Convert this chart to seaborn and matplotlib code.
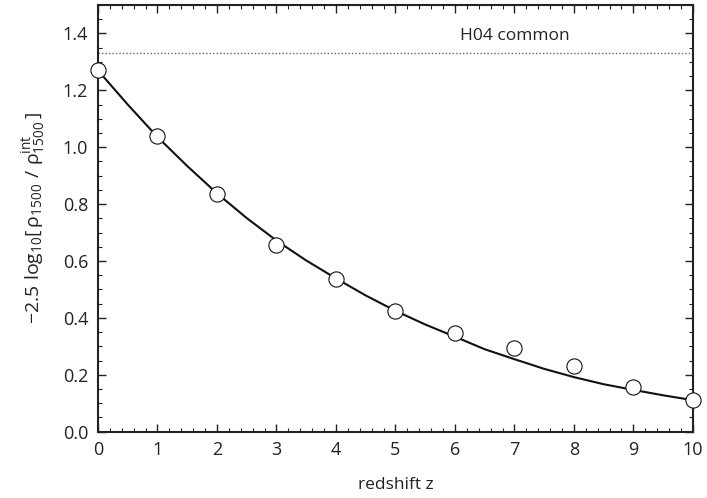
import matplotlib
matplotlib.use("Agg")
import matplotlib.pyplot as plt
import seaborn as sns
import pandas as pd
from matplotlib.ticker import MultipleLocator

# data
z_points = [0, 1, 2, 3, 4, 5, 6, 7, 8, 9, 10]
mag_points = [1.272, 1.038, 0.834, 0.655, 0.537, 0.425, 0.348, 0.294, 0.230, 0.158, 0.112]

z_curve = [0, 0.5, 1, 1.5, 2, 2.5, 3, 3.5, 4, 4.5, 5, 5.5, 6, 6.5, 7, 7.5, 8, 8.5, 9, 9.5, 10]
mag_curve = [1.27, 1.150, 1.036, 0.934, 0.838, 0.751, 0.672, 0.602, 0.539, 0.479, 0.425,
             0.377, 0.334, 0.290, 0.255, 0.221, 0.192, 0.167, 0.147, 0.128, 0.111]

h04_level = 1.33
h04_label = "H04 common"

sns.set_theme(style="ticks")
plt.rcParams['font.family'] = ['Open Sans', 'DejaVu Sans']
plt.rcParams['mathtext.fontset'] = 'custom'
plt.rcParams['mathtext.rm'] = 'Open Sans'
plt.rcParams['mathtext.it'] = 'Open Sans:italic'

fig = plt.figure(figsize=(7.07, 4.98), dpi=100)
ax = fig.add_axes([0.1386, 0.1331, 0.8414, 0.8569])

df_curve = pd.DataFrame({"z": z_curve, "m": mag_curve})
df_pts = pd.DataFrame({"z": z_points, "m": mag_points})

ax.axhline(h04_level, color="#666666", lw=1.0, ls=(0, (1, 1.5)), zorder=1)
sns.lineplot(data=df_curve, x="z", y="m", ax=ax, color="#111111", lw=1.5, zorder=2)
sns.scatterplot(data=df_pts, x="z", y="m", ax=ax, s=120, facecolor="white",
                edgecolor="#111111", linewidth=0.8, zorder=3, clip_on=False)

ax.text(7.0, 1.39, h04_label, ha="center", va="center", fontsize=12.5, color="#222222")

ax.set_xlim(0, 10)
ax.set_ylim(0, 1.5)
ax.xaxis.set_major_locator(MultipleLocator(1))
ax.xaxis.set_minor_locator(MultipleLocator(0.2))
ax.yaxis.set_major_locator(MultipleLocator(0.2))
ax.yaxis.set_minor_locator(MultipleLocator(0.05))
ax.yaxis.set_major_formatter(matplotlib.ticker.FormatStrFormatter('%.1f'))

ax.tick_params(which="both", direction="in", top=True, right=True, colors="#222222",
               labelcolor="#222222")
ax.tick_params(which="major", length=6, width=1.0, labelsize=13, pad=7)
ax.tick_params(which="minor", length=3, width=0.8)
for s in ax.spines.values():
    s.set_linewidth(1.5)
    s.set_color("#222222")

ax.set_xlabel("redshift z", fontsize=12.5, color="#222222", labelpad=13)
ax.set_ylabel(r"$\mathrm{-2.5\ log_{10}[\,ρ_{1500}\ /\ ρ_{1500}^{int}\,]}$",
              fontsize=14, color="#222222", labelpad=11)

fig.savefig("out.png", dpi=100)
